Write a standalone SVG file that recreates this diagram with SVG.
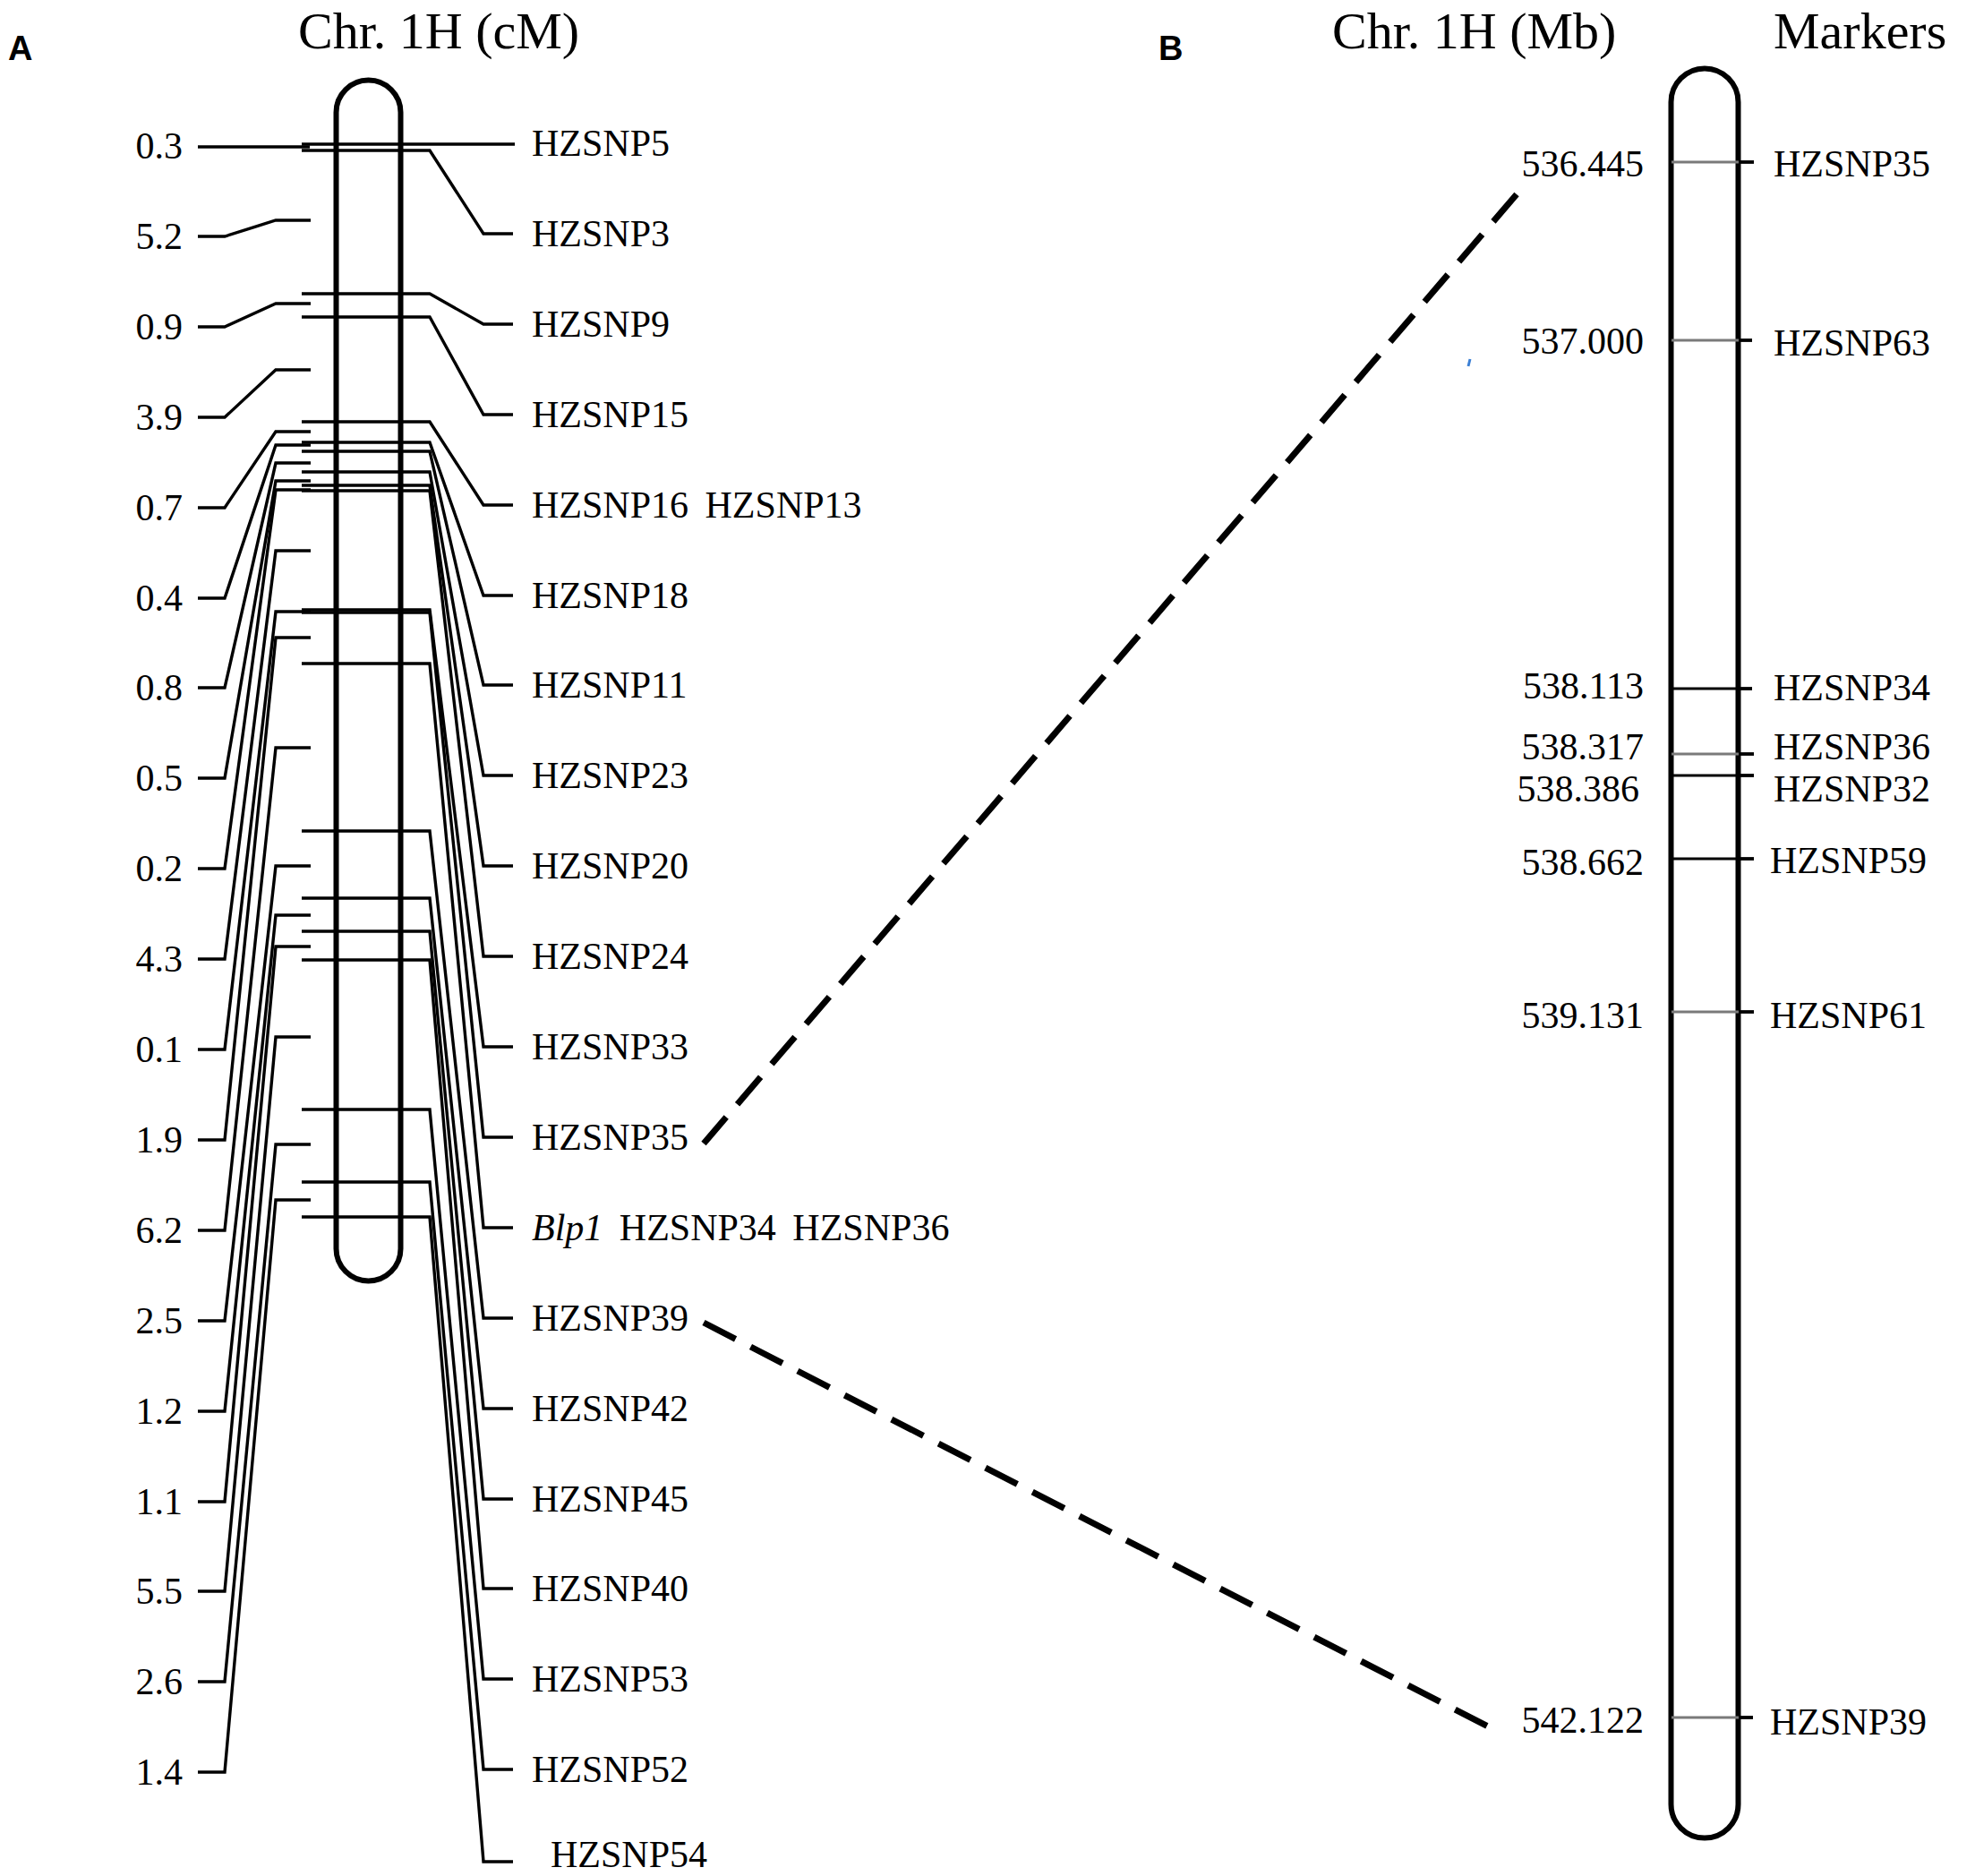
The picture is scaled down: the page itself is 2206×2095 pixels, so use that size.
<svg xmlns="http://www.w3.org/2000/svg" width="2206" height="2095" viewBox="0 0 2206 2095">
<style>
.bg{fill:#fff}
.chr{fill:none;stroke:#000;stroke-width:6}
.ln{fill:none;stroke:#000;stroke-width:3.4;stroke-linejoin:miter}
.mk{stroke:#000;stroke-width:2.8}
.mg{stroke:#7a7a7a;stroke-width:2.8}
.tk{stroke:#000;stroke-width:3.8}
.dash{fill:none;stroke:#000;stroke-width:7;stroke-dasharray:40 19}
.t{font-family:"Liberation Serif","Times New Roman",serif;font-size:42px;fill:#000}
.ttl{font-family:"Liberation Serif","Times New Roman",serif;font-size:58px;fill:#000}
.pl{font-family:"Liberation Sans",Arial,sans-serif;font-size:38px;font-weight:bold;fill:#000}
.r{text-anchor:end}
.ws{word-spacing:8px}
</style>
<rect class="bg" x="0" y="0" width="2206" height="2095"/>

<g id="panel-labels">
<text class="pl" x="9" y="67">A</text>
<text class="pl" x="1294" y="67">B</text>
</g>

<g id="titles">
<text class="ttl" x="333" y="54">Chr. 1H (cM)</text>
<text class="ttl" x="1488" y="54">Chr. 1H (Mb)</text>
<text class="ttl" x="1981" y="54">Markers</text>
</g>

<g id="chromosome-A">
<rect class="chr" x="375.5" y="89.5" width="72" height="1341" rx="36" ry="36"/>
</g>

<g id="chromosome-B">
<rect class="chr" x="1866.5" y="76.5" width="75" height="1976" rx="37.5" ry="37.5"/>
</g>

<g id="connectors">
<!-- Panel A left interval connectors -->
<path class="ln" d="M221 164H346"/>
<path class="ln" d="M221 264H251L308 246H347"/>
<path class="ln" d="M221 365H251L308 339H347"/>
<path class="ln" d="M221 466H251L308 413H347"/>
<path class="ln" d="M221 567H251L308 482H347"/>
<path class="ln" d="M221 668H251L308 497H347"/>
<path class="ln" d="M221 768H251L308 517H347"/>
<path class="ln" d="M221 869H251L308 537H347"/>
<path class="ln" d="M221 970H251L308 547H347"/>
<path class="ln" d="M221 1071H251L308 615H347"/>
<path class="ln" d="M221 1172H251L308 683H347"/>
<path class="ln" d="M221 1273H251L308 712H347"/>
<path class="ln" d="M221 1374H251L308 835H347"/>
<path class="ln" d="M221 1475H251L308 967H347"/>
<path class="ln" d="M221 1576H251L308 1022H347"/>
<path class="ln" d="M221 1677H251L308 1057H347"/>
<path class="ln" d="M221 1777H251L308 1158H347"/>
<path class="ln" d="M221 1878H251L308 1278H347"/>
<path class="ln" d="M221 1979H251L308 1340H347"/>
<!-- Panel A marker lines to right labels -->
<path class="ln" d="M337 161H575"/>
<path class="ln" d="M337 168H480L540 261H573"/>
<path class="ln" d="M337 328H480L540 362H573"/>
<path class="ln" d="M337 354H480L540 463H573"/>
<path class="ln" d="M337 471H480L540 564H573"/>
<path class="ln" d="M337 494H480L540 665H573"/>
<path class="ln" d="M337 504H480L540 765H573"/>
<path class="ln" d="M337 527H480L540 866H573"/>
<path class="ln" d="M337 542H480L540 967H573"/>
<path class="ln" d="M337 548H480L540 1068H573"/>
<path class="ln" d="M337 681H480L540 1169H573"/>
<path class="ln" d="M337 684H480L540 1270H573"/>
<path class="ln" d="M337 741H480L540 1371H573"/>
<path class="ln" d="M337 928H480L540 1472H573"/>
<path class="ln" d="M337 1003H480L540 1573H573"/>
<path class="ln" d="M337 1040H480L540 1674H573"/>
<path class="ln" d="M337 1072H480L540 1774H573"/>
<path class="ln" d="M337 1239H480L540 1875H573"/>
<path class="ln" d="M337 1320H480L540 1976H573"/>
<path class="ln" d="M337 1359H480L540 2079H573"/>
<!-- Dashed links between panels -->
<path class="dash" d="M1694 217L786 1277"/>
<path class="dash" d="M786 1477L1662 1928"/>
</g>

<g id="labels-A-left">
<text class="t r" x="204" y="177">0.3</text>
<text class="t r" x="204" y="278">5.2</text>
<text class="t r" x="204" y="379">0.9</text>
<text class="t r" x="204" y="480">3.9</text>
<text class="t r" x="204" y="581">0.7</text>
<text class="t r" x="204" y="682">0.4</text>
<text class="t r" x="204" y="782">0.8</text>
<text class="t r" x="204" y="883">0.5</text>
<text class="t r" x="204" y="984">0.2</text>
<text class="t r" x="204" y="1085">4.3</text>
<text class="t r" x="204" y="1186">0.1</text>
<text class="t r" x="204" y="1287">1.9</text>
<text class="t r" x="204" y="1388">6.2</text>
<text class="t r" x="204" y="1489">2.5</text>
<text class="t r" x="204" y="1590">1.2</text>
<text class="t r" x="204" y="1691">1.1</text>
<text class="t r" x="204" y="1791">5.5</text>
<text class="t r" x="204" y="1892">2.6</text>
<text class="t r" x="204" y="1993">1.4</text>
</g>

<g id="labels-A-right">
<text class="t" x="594" y="174">HZSNP5</text>
<text class="t" x="594" y="275">HZSNP3</text>
<text class="t" x="594" y="376">HZSNP9</text>
<text class="t" x="594" y="477">HZSNP15</text>
<text class="t ws" x="594" y="578">HZSNP16 HZSNP13</text>
<text class="t" x="594" y="679">HZSNP18</text>
<text class="t" x="594" y="779">HZSNP11</text>
<text class="t" x="594" y="880">HZSNP23</text>
<text class="t" x="594" y="981">HZSNP20</text>
<text class="t" x="594" y="1082">HZSNP24</text>
<text class="t" x="594" y="1183">HZSNP33</text>
<text class="t" x="594" y="1284">HZSNP35</text>
<text class="t ws" x="594" y="1385"><tspan font-style="italic">Blp1</tspan> HZSNP34 HZSNP36</text>
<text class="t" x="594" y="1486">HZSNP39</text>
<text class="t" x="594" y="1587">HZSNP42</text>
<text class="t" x="594" y="1688">HZSNP45</text>
<text class="t" x="594" y="1788">HZSNP40</text>
<text class="t" x="594" y="1889">HZSNP53</text>
<text class="t" x="594" y="1990">HZSNP52</text>
<text class="t" x="615" y="2085">HZSNP54</text>
</g>

<g id="markers-B">
<line class="mg" x1="1867" y1="181" x2="1942" y2="181"/><line class="tk" x1="1942" y1="181" x2="1959" y2="181"/>
<line class="mg" x1="1867" y1="380" x2="1942" y2="380"/><line class="tk" x1="1942" y1="380" x2="1957" y2="380"/>
<line class="mk" x1="1867" y1="769" x2="1942" y2="769"/><line class="tk" x1="1942" y1="769" x2="1957" y2="769"/>
<line class="mg" x1="1867" y1="842" x2="1942" y2="842"/><line class="tk" x1="1942" y1="842" x2="1959" y2="842"/>
<line class="mk" x1="1867" y1="866" x2="1942" y2="866"/><line class="tk" x1="1942" y1="866" x2="1959" y2="866"/>
<line class="mk" x1="1867" y1="959" x2="1942" y2="959"/><line class="tk" x1="1942" y1="959" x2="1959" y2="959"/>
<line class="mg" x1="1867" y1="1130" x2="1942" y2="1130"/><line class="tk" x1="1942" y1="1130" x2="1959" y2="1130"/>
<line class="mg" x1="1867" y1="1918" x2="1942" y2="1918"/><line class="tk" x1="1942" y1="1918" x2="1958" y2="1918"/>
</g>

<g id="labels-B-left">
<text class="t r" x="1836" y="197">536.445</text>
<text class="t r" x="1836" y="395">537.000</text>
<text class="t r" x="1836" y="780">538.113</text>
<text class="t r" x="1836" y="848">538.317</text>
<text class="t r" x="1831" y="895">538.386</text>
<text class="t r" x="1836" y="977">538.662</text>
<text class="t r" x="1836" y="1148">539.131</text>
<text class="t r" x="1836" y="1935">542.122</text>
</g>

<g id="labels-B-right">
<text class="t" x="1981" y="197">HZSNP35</text>
<text class="t" x="1981" y="397">HZSNP63</text>
<text class="t" x="1981" y="782">HZSNP34</text>
<text class="t" x="1981" y="848">HZSNP36</text>
<text class="t" x="1981" y="895">HZSNP32</text>
<text class="t" x="1977" y="975">HZSNP59</text>
<text class="t" x="1977" y="1148">HZSNP61</text>
<text class="t" x="1977" y="1937">HZSNP39</text>
</g>

<g id="stray-mark">
<line x1="1642" y1="401" x2="1640" y2="409" stroke="#3b7fd4" stroke-width="3"/>
</g>
</svg>
